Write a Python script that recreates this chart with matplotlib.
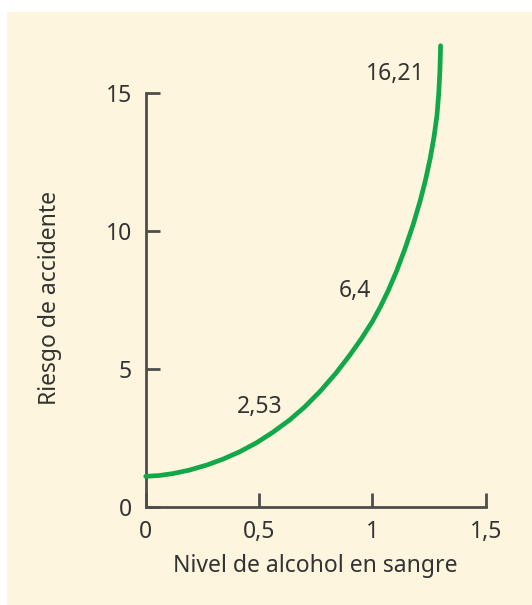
import matplotlib
matplotlib.use("Agg")
import matplotlib.pyplot as plt
from matplotlib.patches import Rectangle

# Data
alcohol = [0.0, 0.06, 0.12, 0.19, 0.27, 0.34, 0.415, 0.49, 0.56, 0.635, 0.70,
           0.77, 0.84, 0.90, 0.95, 1.00, 1.035, 1.07, 1.107, 1.145, 1.18,
           1.21, 1.235, 1.255, 1.272, 1.285, 1.293, 1.298, 1.301]
riesgo = [1.12, 1.15, 1.22, 1.34, 1.53, 1.74, 2.01, 2.34, 2.71, 3.16, 3.62,
          4.20, 4.86, 5.50, 6.08, 6.72, 7.25, 7.84, 8.55, 9.38, 10.23,
          11.06, 11.86, 12.62, 13.40, 14.18, 15.0, 15.8, 16.7]
label_text = ["2,53", "6,4", "16,21"]
label_x = [0.504, 0.923, 1.232]
label_y = [3.40, 7.62, 15.46]
xticks = [0, 0.5, 1, 1.5]
xtick_labels = ["0", "0,5", "1", "1,5"]
yticks = [0, 5, 10, 15]
ytick_labels = ["0", "5", "10", "15"]

plt.rcParams['font.family'] = ['Noto Sans', 'DejaVu Sans']
W, H = 532, 605
fig = plt.figure(figsize=(W / 100, H / 100), dpi=100, facecolor="white")
bg = "#fdf5dd"
rect = Rectangle((7 / W, 0), 1 - 7 / W, 1 - 12 / H,
                 transform=fig.transFigure, facecolor=bg,
                 edgecolor="none", zorder=-10)
fig.add_artist(rect)

left = 145.7 / W
bottom = (H - 507.3) / H
width = 340 / W
ymax = 17.0
height = ymax * 27.64 / H
ax = fig.add_axes([left, bottom, width, height])
ax.set_zorder(5)
ax.set_facecolor("none")

fs = 16.5
green = "#12a84a"
ax.plot(alcohol, riesgo, color=green, lw=3.4, solid_capstyle="round",
        solid_joinstyle="round", clip_on=False, zorder=3)

txt = "#333333"
for t, x, y, ha in zip(label_text, label_x, label_y, ["center", "center", "right"]):
    ax.text(x, y, t, ha=ha, va="baseline", fontsize=fs, color=txt)

ax.set_xlim(0, 1.5)
ax.set_ylim(0, ymax)
for s in ["top", "right"]:
    ax.spines[s].set_visible(False)
spine_c = "#4d4d4d"
for s in ["left", "bottom"]:
    ax.spines[s].set_color(spine_c)
    ax.spines[s].set_linewidth(2)
ax.spines["left"].set_bounds(0, 15)
ax.spines["bottom"].set_bounds(0, 1.5)

ax.set_xticks(xticks)
ax.set_xticklabels(xtick_labels)
ax.set_yticks(yticks)
ax.set_yticklabels(ytick_labels)
ax.tick_params(direction="in", length=10, width=2, color=spine_c,
               labelsize=fs, labelcolor=txt)
ax.tick_params(axis="y", pad=10)
ax.tick_params(axis="x", pad=9)
for tl in ax.get_xticklabels() + ax.get_yticklabels():
    tl.set_clip_on(False)

ax.set_xlabel("Nivel de alcohol en sangre", fontsize=fs, color=txt)
ax.xaxis.set_label_coords(0.5, (507.3 - 566) / (ymax * 27.64))
ax.xaxis.label.set_va("center")
ax.set_ylabel("Riesgo de accidente", fontsize=fs, color=txt)
ax.yaxis.set_label_coords((50 - 145.7) / 340, (507.3 - 298) / (ymax * 27.64))
ax.yaxis.label.set_va("center")

fig.savefig("out.png", dpi=100, facecolor="white")
